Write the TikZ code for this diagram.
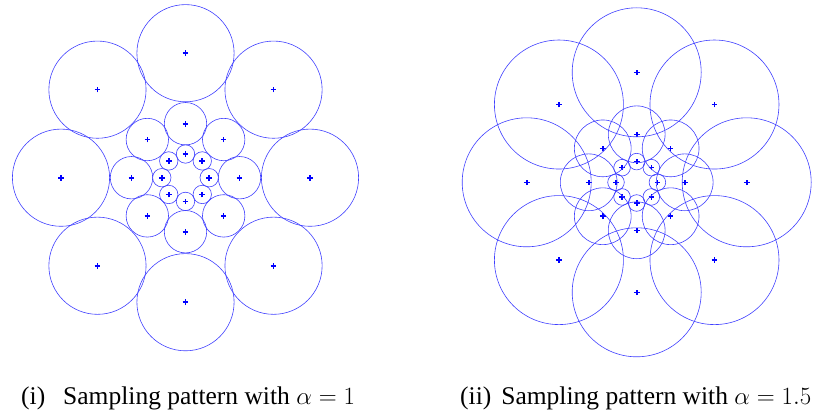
\documentclass[tikz,border=0pt]{standalone}
\usepackage{fontspec}
\setmainfont{Liberation Serif}
\usetikzlibrary{calc}

\begin{document}
\begin{tikzpicture}[
        x=1pt, y=1pt,
        ring/.style={draw=blue!75, line width=0.6pt},
        centre/.style={draw=blue, line width=1.6pt},
        caption/.style={anchor=base west, inner sep=0pt, font=\fontsize{25.5}{30}\selectfont}
    ]
    \useasboundingbox (0,0) rectangle (822,-415);
%
    % Pattern centres
    \coordinate (left) at (185.5,-177.7);
    \coordinate (right) at (636.7,-182.3);
%
    % Circles, alpha = 1
    \foreach \d/\r in {23.7/9.2, 54/21.2, 124.5/48.6}
      \foreach \a in {0,45,...,315} {
        \coordinate (p) at ($(left)+(\a:\d)$);
        \draw[ring] (p) circle (\r);
        \draw[centre] (p) +(-2.8,0) -- +(2.8,0) (p) +(0,-2.8) -- +(0,2.8);
      }
%
    % Circles, alpha = 1.5
    \foreach \d/\r in {20.7/8.3, 48/28.4, 110/64.5}
      \foreach \a in {0,45,...,315} {
        \coordinate (p) at ($(right)+(\a:\d)$);
        \draw[ring] (p) circle (\r);
        \draw[centre] (p) +(-2.8,0) -- +(2.8,0) (p) +(0,-2.8) -- +(0,2.8);
      }
%
    % Captions
    \node[caption] (capi) at (21,-404) {(i)\hspace{18pt}Sampling pattern with $\alpha = 1$};
    \node[caption] (capii) at (460,-404) {(ii)\hspace{10pt}Sampling pattern with $\alpha = 1.5$};
%
\end{tikzpicture}
\end{document}
